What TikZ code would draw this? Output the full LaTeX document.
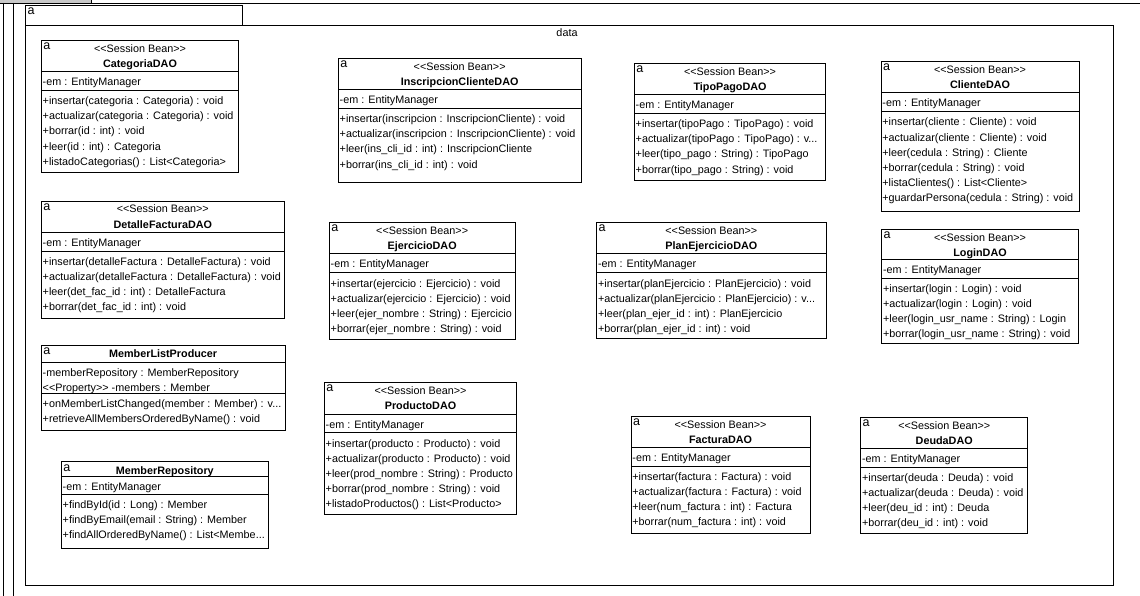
\documentclass[tikz,border=0pt]{standalone}
\usepackage{fontspec}
\newfontfamily\umlfont{Liberation Sans}
\usetikzlibrary{calc}
\newcommand\trunc{...}
\definecolor{tabgray}{RGB}{200,200,200}
\tikzset{
  pkgline/.style={draw=black, line width=0.9pt},
  classbox/.style={draw=black, fill=white, line width=0.9pt, anchor=north west, inner sep=0pt, outer sep=0pt},
  rowtext/.style={anchor=base west, inner sep=0pt, font=\umlfont\fontsize{10.8}{13}\selectfont},
  stereotext/.style={anchor=base, inner sep=0pt, font=\umlfont\fontsize{10.8}{13}\selectfont},
  titletext/.style={anchor=base, inner sep=0pt, font=\umlfont\fontsize{10.8}{13}\selectfont\bfseries},
  icontext/.style={anchor=base west, inner sep=0pt, font=\umlfont\fontsize{12.5}{13}\selectfont},
}
% #1 id, #2 x1, #3 y1, #4 x2, #5 y2, #6 divider1, #7 divider2, #8 attributes, #9 operations
\newcommand\umlclass[9]{%
  \node[classbox, minimum width={(#4-#2)*1pt}, minimum height={(#5-#3)*1pt}] (#1) at (#2,#3) {};
  \node[icontext] (#1-icon) at (#2+1.8,#3+9.3) {a};
  \draw[pkgline] (#1.west |- 0,#6) -- (#1.east |- 0,#6);
  \draw[pkgline] (#1.west |- 0,#7) -- (#1.east |- 0,#7);
  \foreach \t [count=\i from 0] in {#8} {\node[rowtext] (#1-attr\i) at (#2+1.2,#6+10+15.2*\i+4) {\t};}
  \foreach \t [count=\i from 0] in {#9} {\node[rowtext] (#1-op\i) at (#2+1.2,#7+10.3+15.2*\i+4) {\t};}
}
\newcommand\sbheader[2]{%
  \node[stereotext] (#1-st) at ($(#1.north)+(0,12)$) {<<Session Bean>>};
  \node[titletext] (#1-title) at ($(#1.north)+(0,27)$) {#2};
}
\newcommand\plainheader[2]{%
  \node[titletext] (#1-title) at ($(#1.north)+(0,12.4)$) {#2};
}
\begin{document}
\begin{tikzpicture}[x=1pt,y=-1pt]
\useasboundingbox (0,0) rectangle (1140,596);
\fill[white] (0,0) rectangle (1140,596);
% enclosing package borders (cut by the picture edge)
\fill[tabgray] (0,0) rectangle (91,3);
\draw[pkgline] (0,3) -- (1140,3);
\draw[pkgline] (91,0) -- (91,3);
\draw[pkgline] (3.3,3) -- (3.3,596);
\draw[pkgline] (13.3,3) -- (13.3,596);
% package data
\node[classbox, minimum width=1087.3pt, minimum height=560pt] (data) at (25.7,25) {};
\node[classbox, minimum width=216.6pt, minimum height=19.7pt] (tab) at (25.7,5.3) {};
\node[icontext] (tab-icon) at (27.5,14.5) {a};
\node[stereotext] (data-name) at (567,37) {data};

\umlclass{cat}{41.3}{40.3}{238.7}{172.3}{71.3}{90.3}{-em : EntityManager}{+insertar(categoria : Categoria) : void, +actualizar(categoria : Categoria) : void, +borrar(id : int) : void, +leer(id : int) : Categoria, +listadoCategorias() : List<Categoria>}
\sbheader{cat}{CategoriaDAO}

\umlclass{ins}{338.3}{58.3}{581}{182.3}{89.3}{108.3}{-em : EntityManager}{+insertar(inscripcion : InscripcionCliente) : void, +actualizar(inscripcion : InscripcionCliente) : void, +leer(ins\_cli\_id : int) : InscripcionCliente, +borrar(ins\_cli\_id : int) : void}
\sbheader{ins}{InscripcionClienteDAO}

\umlclass{tipo}{634.3}{63.3}{825.7}{180.4}{94.3}{113.3}{-em : EntityManager}{+insertar(tipoPago : TipoPago) : void, +actualizar(tipoPago : TipoPago) : v\trunc, +leer(tipo\_pago : String) : TipoPago, +borrar(tipo\_pago : String) : void}
\sbheader{tipo}{TipoPagoDAO}

\umlclass{cli}{881}{61.7}{1079}{211}{92.7}{111.7}{-em : EntityManager}{+insertar(cliente : Cliente) : void, +actualizar(cliente : Cliente) : void, +leer(cedula : String) : Cliente, +borrar(cedula : String) : void, +listaClientes() : List<Cliente>, +guardarPersona(cedula : String) : void}
\sbheader{cli}{ClienteDAO}

\umlclass{det}{41.3}{201}{284.3}{318}{232}{251}{-em : EntityManager}{+insertar(detalleFactura : DetalleFactura) : void, +actualizar(detalleFactura : DetalleFactura) : void, +leer(det\_fac\_id : int) : DetalleFactura, +borrar(det\_fac\_id : int) : void}
\sbheader{det}{DetalleFacturaDAO}

\umlclass{ejer}{329.3}{222.7}{515}{339.5}{253.7}{272.7}{-em : EntityManager}{+insertar(ejercicio : Ejercicio) : void, +actualizar(ejercicio : Ejercicio) : void, +leer(ejer\_nombre : String) : Ejercicio, +borrar(ejer\_nombre : String) : void}
\sbheader{ejer}{EjercicioDAO}

\umlclass{plan}{596.7}{222.7}{826}{338.7}{253.7}{272.7}{-em : EntityManager}{+insertar(planEjercicio : PlanEjercicio) : void, +actualizar(planEjercicio : PlanEjercicio) : v\trunc, +leer(plan\_ejer\_id : int) : PlanEjercicio, +borrar(plan\_ejer\_id : int) : void}
\sbheader{plan}{PlanEjercicioDAO}

\umlclass{login}{881.7}{229.3}{1078.3}{343.5}{259.8}{278}{-em : EntityManager}{+insertar(login : Login) : void, +actualizar(login : Login) : void, +leer(login\_usr\_name : String) : Login, +borrar(login\_usr\_name : String) : void}
\sbheader{login}{LoginDAO}

\umlclass{mlp}{41.3}{345}{285}{430.7}{362.3}{393.3}{-memberRepository : MemberRepository, <<Property>> -members : Member}{+onMemberListChanged(member : Member) : v\trunc, +retrieveAllMembersOrderedByName() : void}
\plainheader{mlp}{MemberListProducer}

\umlclass{mrep}{61.3}{461.7}{268.3}{548.3}{476.7}{494}{-em : EntityManager}{+findById(id : Long) : Member, +findByEmail(email : String) : Member, +findAllOrderedByName() : List<Membe\trunc}
\plainheader{mrep}{MemberRepository}

\umlclass{prod}{324.3}{382.3}{516.7}{514.3}{414.3}{432.7}{-em : EntityManager}{+insertar(producto : Producto) : void, +actualizar(producto : Producto) : void, +leer(prod\_nombre : String) : Producto, +borrar(prod\_nombre : String) : void, +listadoProductos() : List<Producto>}
\sbheader{prod}{ProductoDAO}

\umlclass{fact}{631}{416}{810}{533.3}{447}{466}{-em : EntityManager}{+insertar(factura : Factura) : void, +actualizar(factura : Factura) : void, +leer(num\_factura : int) : Factura, +borrar(num\_factura : int) : void}
\sbheader{fact}{FacturaDAO}

\umlclass{deuda}{860.7}{417}{1027.7}{533.3}{448}{467}{-em : EntityManager}{+insertar(deuda : Deuda) : void, +actualizar(deuda : Deuda) : void, +leer(deu\_id : int) : Deuda, +borrar(deu\_id : int) : void}
\sbheader{deuda}{DeudaDAO}
\end{tikzpicture}
\end{document}
